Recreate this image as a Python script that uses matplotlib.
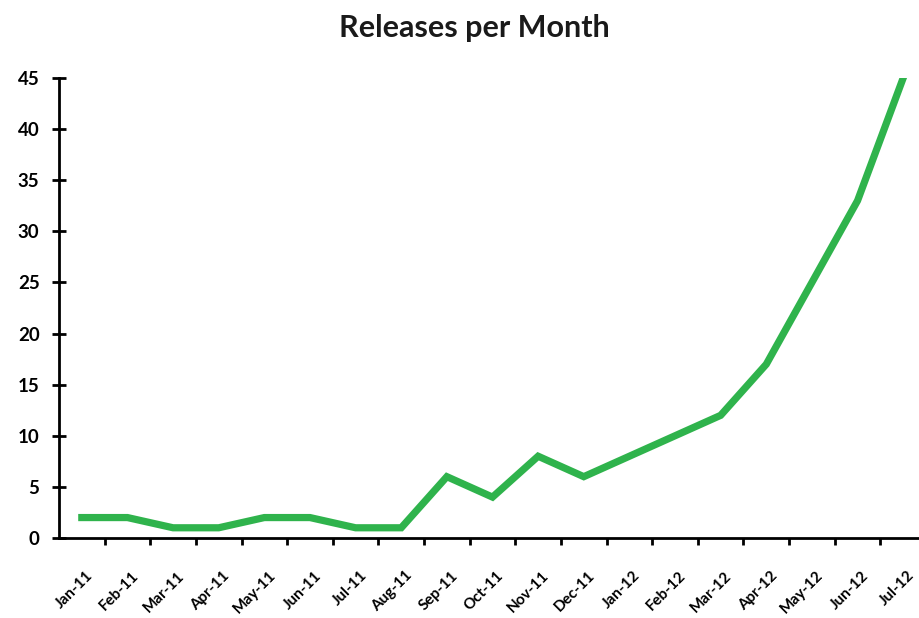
import matplotlib
matplotlib.use('Agg')
import matplotlib.pyplot as plt
import matplotlib.transforms as mtransforms
import numpy as np

# data
months = ['Jan-11', 'Feb-11', 'Mar-11', 'Apr-11', 'May-11', 'Jun-11', 'Jul-11',
          'Aug-11', 'Sep-11', 'Oct-11', 'Nov-11', 'Dec-11', 'Jan-12', 'Feb-12',
          'Mar-12', 'Apr-12', 'May-12', 'Jun-12', 'Jul-12']
releases = [2, 2, 1, 1, 2, 2, 1, 1, 6, 4, 8, 6, 8, 10, 12, 17, 25, 33, 45]
y_ticks = [0, 5, 10, 15, 20, 25, 30, 35, 40, 45]

plt.rcParams['font.family'] = ['Lato', 'DejaVu Sans']

fig = plt.figure(figsize=(9.2, 6.18), dpi=100)
ax = fig.add_axes([59 / 920, 80 / 618, (926 - 59) / 920, 460 / 618])

x = np.arange(len(months))
ax.plot(x, releases, color='#2fb34c', linewidth=5.2, solid_joinstyle='miter')

ax.set_xlim(-0.5, len(months) - 0.5)
ax.set_ylim(0, 45)

# tick marks between categories, labels at category centres
ax.set_xticks(np.arange(len(months)) + 0.5)
ax.set_xticklabels([])
ax.set_xticks(x, minor=True)
ax.set_xticklabels(months, minor=True, rotation=45, ha='right', va='top',
                   rotation_mode='anchor', fontsize=11, fontweight='bold')
ax.tick_params(axis='x', which='major', direction='out', length=5, width=2)
ax.tick_params(axis='x', which='minor', length=0, pad=22)
shift = mtransforms.ScaledTranslation(4 / 100, 0, fig.dpi_scale_trans)
for lab in ax.get_xticklabels(minor=True):
    lab.set_transform(lab.get_transform() + shift)

ax.set_yticks(y_ticks)
ax.set_yticklabels([str(v) for v in y_ticks], fontsize=13.5, fontweight='bold')
ax.tick_params(axis='y', direction='inout', length=10, width=2, pad=9)

for side in ['top', 'right']:
    ax.spines[side].set_visible(False)
for side in ['left', 'bottom']:
    ax.spines[side].set_linewidth(2)

fig.text(0.516, 0.955, 'Releases per Month', ha='center', va='center',
         fontsize=22, fontweight='bold', color='#1a1a1a')

fig.savefig('out.png', dpi=100, facecolor='white')
